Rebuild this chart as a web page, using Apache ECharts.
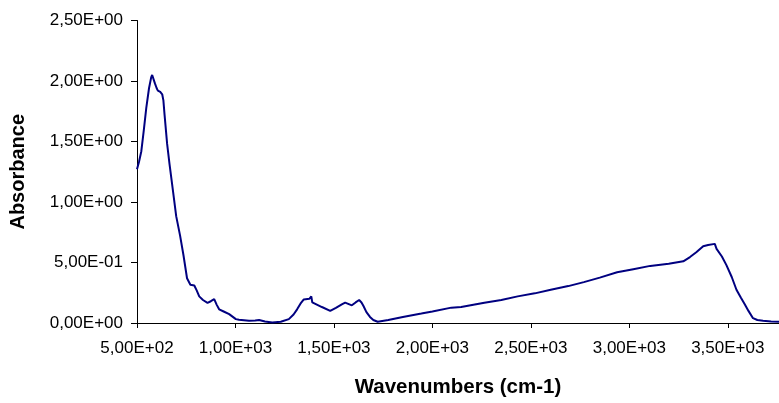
<!DOCTYPE html>
<html>
<head>
<meta charset="utf-8">
<script src="https://cdn.jsdelivr.net/npm/echarts@6/dist/echarts.min.js"></script>
<style>
  html, body { margin: 0; padding: 0; background: #fff; }
  #chart { width: 779px; height: 403px; }
</style>
</head>
<body>
<div id="chart"></div>
<script>
// IR spectrum: wavenumber (cm-1) vs absorbance
const wavenumbers = [
  500, 510, 522, 534, 547, 561, 572, 577, 583, 591, 600, 606, 618, 628, 634, 640,
  653, 665, 682, 699, 719, 736, 754, 771, 791, 803, 816, 835, 858, 875, 892, 905,
  917, 940, 968, 1002, 1018, 1069, 1100, 1120, 1128, 1150, 1187, 1230, 1271, 1295,
  1313, 1330, 1347, 1375, 1380, 1385, 1390, 1397, 1439, 1481, 1510, 1540, 1557,
  1591, 1610, 1628, 1640, 1650, 1665, 1683, 1700, 1722, 1776, 1850, 1944, 2000,
  2096, 2146, 2264, 2350, 2433, 2520, 2601, 2690, 2769, 2850, 2938, 3020, 3106,
  3200, 3274, 3308, 3340, 3375, 3400, 3434, 3443, 3470, 3493, 3520, 3544, 3566,
  3586, 3605, 3628, 3650, 3679, 3720, 3760
];
const absorbance = [
  1.27, 1.33, 1.42, 1.585, 1.775, 1.94, 2.03, 2.05, 2.04, 1.98, 1.94, 1.92, 1.91, 1.89, 1.84, 1.72,
  1.48, 1.315, 1.10, 0.883, 0.72, 0.56, 0.37, 0.316, 0.31, 0.27, 0.22, 0.19, 0.167, 0.18, 0.197, 0.15,
  0.113, 0.095, 0.073, 0.032, 0.027, 0.019, 0.02, 0.024, 0.024, 0.012, 0.005, 0.01, 0.032, 0.07,
  0.113, 0.16, 0.195, 0.2, 0.21, 0.22, 0.17, 0.154, 0.132, 0.10, 0.125, 0.154, 0.168,
  0.146, 0.17, 0.19, 0.17, 0.14, 0.09, 0.05, 0.025, 0.01, 0.024, 0.05, 0.078, 0.095,
  0.127, 0.132, 0.168, 0.19, 0.22, 0.245, 0.275, 0.305, 0.338, 0.375, 0.419, 0.445, 0.472,
  0.49, 0.51, 0.545, 0.585, 0.635, 0.645, 0.654, 0.613, 0.55, 0.478, 0.38, 0.275, 0.21,
  0.154, 0.1, 0.04, 0.025, 0.019, 0.012, 0.01
];
const xTicks = [500, 1000, 1500, 2000, 2500, 3000, 3500];
const yTicks = [0, 0.5, 1, 1.5, 2, 2.5];

// Scientific notation with a decimal comma, e.g. 5,00E+02
function sci(v) {
  if (v === 0) return '0,00E+00';
  let e = Math.floor(Math.log10(Math.abs(v)) + 1e-9);
  let m = v / Math.pow(10, e);
  const sign = e < 0 ? '-' : '+';
  const ae = Math.abs(e);
  return m.toFixed(2).replace('.', ',') + 'E' + sign + (ae < 10 ? '0' : '') + ae;
}

const FONT = '"Liberation Sans", Arial, sans-serif';
const chart = echarts.init(document.getElementById('chart'), null, { renderer: 'canvas' });
chart.setOption({
  animation: false,
  backgroundColor: '#ffffff',
  grid: { left: 134, right: 0, top: 20.5, bottom: 74, containLabel: false },
  xAxis: {
    type: 'value',
    min: 500,
    max: 3760,
    interval: 500,
    name: 'Wavenumbers (cm-1)',
    nameLocation: 'middle',
    nameGap: 54,
    nameTextStyle: { fontFamily: FONT, fontWeight: 'bold', fontSize: 20.5, color: '#000' },
    axisLine: { lineStyle: { color: '#000', width: 1 } },
    axisTick: { show: true, length: 5, lineStyle: { color: '#000' }, customValues: xTicks },
    axisLabel: {
      customValues: xTicks,
      formatter: sci,
      fontFamily: FONT, fontSize: 17, color: '#000', margin: 17
    },
    splitLine: { show: false }
  },
  yAxis: {
    type: 'value',
    min: 0,
    max: 2.5,
    interval: 0.5,
    name: 'Absorbance',
    nameLocation: 'middle',
    nameGap: 109,
    nameRotate: 90,
    nameTextStyle: { fontFamily: FONT, fontWeight: 'bold', fontSize: 20, color: '#000' },
    axisLine: { show: true, lineStyle: { color: '#000', width: 1 } },
    axisTick: { show: true, length: 6, lineStyle: { color: '#000' }, customValues: yTicks },
    axisLabel: {
      customValues: yTicks,
      formatter: sci,
      fontFamily: FONT, fontSize: 17, color: '#000', margin: 14
    },
    splitLine: { show: false }
  },
  series: [{
    type: 'line',
    data: wavenumbers.map((w, i) => [w, absorbance[i]]),
    showSymbol: false,
    symbol: 'none',
    lineStyle: { color: '#000080', width: 2 },
    clip: true
  }]
});
</script>
</body>
</html>
